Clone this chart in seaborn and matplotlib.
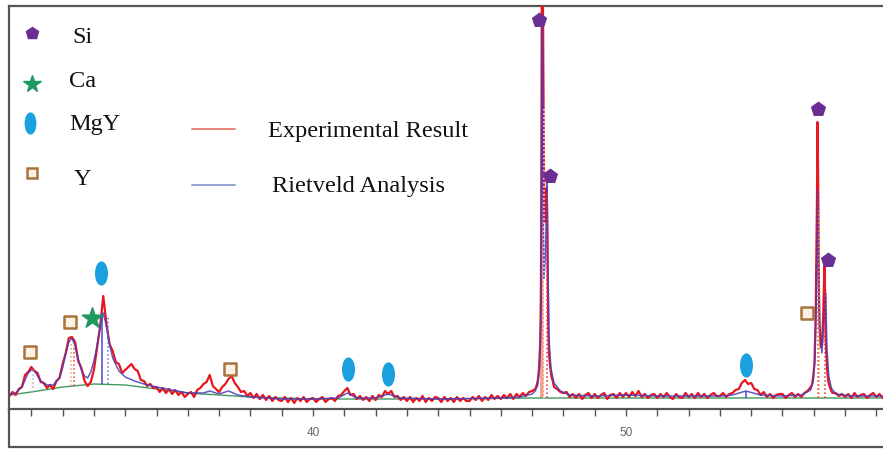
import numpy as np
import pandas as pd
import matplotlib
matplotlib.use("Agg")
import matplotlib.pyplot as plt
import seaborn as sns
from matplotlib.path import Path
from matplotlib.transforms import Affine2D
from matplotlib.lines import Line2D

# ---------------- data ----------------
# experimental scan, 0.1 deg steps from 30.3 deg (intensity in a.u.)
scan_start = 30.3
scan_step = 0.1
exp_scan_I = [
    12, 16, 13, 19, 21, 33, 36,
    41, 37, 35, 26, 25, 20, 23, 19, 27, 30,
    44, 55, 70, 71, 66, 47, 40, 27, 22, 26,
    38, 60, 82, 112, 84, 64, 57, 46, 44, 35,
    38, 41, 44, 39, 37, 28, 27, 22, 24, 20,
    21, 16, 20, 15, 19, 14, 18, 13, 16, 11,
    14, 16, 11, 18, 20, 24, 26, 33, 22, 19,
    16, 21, 24, 29, 32, 25, 21, 16, 17, 12,
    15, 10, 14, 9, 13, 8, 12, 7, 11, 8,
    7, 11, 6, 10, 5, 10, 7, 11, 6, 9,
    10, 6, 9, 11, 6, 9, 10, 7, 12, 13,
    17, 20, 13, 14, 9, 12, 8, 11, 7, 12,
    8, 13, 11, 17, 14, 17, 11, 12, 8, 11,
    7, 11, 6, 10, 7, 12, 6, 10, 7, 11,
    10, 6, 11, 7, 10, 6, 11, 7, 10, 7,
    7, 11, 8, 12, 7, 11, 8, 13, 9, 12,
    9, 13, 10, 14, 9, 14, 11, 15, 12, 16,
    17, 18, 30, 300, 200, 60, 25, 19, 19, 16,
    15, 16, 11, 14, 10, 14, 9, 13, 15, 10,
    14, 10, 13, 15, 9, 13, 14, 10, 15, 11,
    15, 11, 16, 12, 17, 11, 14, 10, 13, 14,
    10, 14, 11, 15, 11, 9, 14, 11, 10, 15,
    11, 14, 10, 15, 11, 14, 10, 13, 15, 12,
    12, 15, 11, 14, 15, 18, 19, 25, 28, 24,
    25, 19, 18, 13, 16, 11, 14, 10, 13, 14,
    14, 10, 13, 15, 11, 14, 11, 15, 17, 20,
    40, 200, 60, 100, 40, 20, 18, 15, 12, 14,
    11, 14, 10, 15, 11, 13, 14, 10, 13, 15,
    11, 14, 10, 12,
]
# finer steps across the two Si reflections
si220_2theta = [47.10, 47.14, 47.18, 47.22, 47.26, 47.28, 47.30, 47.32, 47.34, 47.36, 47.38, 47.40,
                47.42, 47.44, 47.46, 47.48, 47.50, 47.52, 47.54, 47.58, 47.62, 47.66, 47.70]
si220_I = [19, 22, 27, 39, 66, 112, 225, 385, 445, 330, 225, 192,
           186, 206, 220, 198, 128, 76, 54, 41, 31, 27, 21]
si311_2theta = [55.90, 55.94, 55.98, 56.02, 56.06, 56.10, 56.12, 56.14, 56.16, 56.18, 56.22,
                56.26, 56.30, 56.34, 56.36, 56.38, 56.42, 56.46, 56.50, 56.56, 56.60]
si311_I = [21, 23, 31, 44, 92, 205, 286, 228, 128, 86, 61,
           63, 92, 142, 118, 70, 41, 27, 22, 17, 15]

# Rietveld calculated profile
riet_2theta = [30.3, 30.5, 30.7, 30.8, 30.9, 31.0, 31.1, 31.2, 31.3, 31.5, 31.7, 31.9, 32.0, 32.1, 32.2,
               32.3, 32.4, 32.5, 32.6, 32.7, 32.8, 32.9, 33.0, 33.1, 33.2, 33.3, 33.4, 33.5, 33.6, 33.8,
               34.0, 34.3, 34.6, 35.0, 35.5, 36.0, 36.5, 36.7, 37.0, 37.3, 37.6, 38.0, 39.0, 40.0, 40.8,
               41.1, 41.4, 42.0, 42.4, 42.8, 44.0, 46.0, 46.6, 47.0, 47.1, 47.18, 47.24, 47.28, 47.30,
               47.32, 47.34, 47.36, 47.38, 47.42, 47.46, 47.48, 47.50, 47.54, 47.6, 47.7, 47.9, 48.2,
               49.0, 50.0, 51.0, 52.0, 53.0, 53.4, 53.83, 54.3, 55.0, 55.6, 55.9, 55.98, 56.04, 56.08,
               56.12, 56.16, 56.2, 56.26, 56.32, 56.38, 56.42, 56.48, 56.56, 56.7, 57.2, 58.3]
riet_I = [13, 15, 21, 28, 35, 38, 37, 32, 27, 23, 23, 30, 40, 54, 66,
          70, 62, 49, 38, 32, 30, 36, 47, 62, 82, 95, 82, 64, 50, 37,
          31, 27, 24, 21, 18, 15, 15, 17, 14, 17, 13, 11, 9, 9, 10,
          15, 10, 10, 14, 10, 9, 10, 11, 14, 17, 23, 40, 90, 230,
          382, 330, 190, 130, 150, 200, 225, 160, 70, 40, 25, 17, 13,
          12, 13, 12, 12, 12, 13, 17, 13, 12, 13, 18, 27, 50, 110,
          218, 120, 70, 55, 85, 115, 60, 32, 20, 14, 12, 12]

# background
bg_2theta = [30.3, 31, 32, 33, 34, 35, 36, 37, 38, 39, 40, 44, 47, 50, 54, 58.3]
bg_I = [13, 16, 21, 24, 23, 19, 15, 13, 11, 10, 9, 9, 10, 10, 10, 10]

# reflection position lines
refl_2theta = [31.05, 32.27, 32.35, 33.27, 33.45, 47.37, 47.47, 53.83, 56.12, 56.17, 56.37]
refl_top = [38, 66, 60, 95, 90, 300, 215, 17, 286, 200, 140]
refl_colors = ["#b0b0b0", "#f0a060", "#e04040", "#4a4ad0", "#6a6ae0", "#ffffff", "#e03030",
               "#4a4ad0", "#e03030", "#f09040", "#e03030"]
refl_styles = [":", ":", ":", "-", ":", ":", ":", "-", ":", ":", ":"]
si_main_2theta = 47.33

# phase markers
si_2theta = [47.22, 47.57, 56.13, 56.45]
si_I = [388, 232, 299, 148]
ca_2theta = [32.94]
ca_I = [90]
mgy_2theta = [33.23, 41.12, 42.40, 53.83]
mgy_I = [135, 39, 34, 43]
y_2theta = [30.96, 32.24, 37.35, 55.78]
y_I = [56, 86, 39, 95]

phase_names = ["Si", "Ca", "MgY", "Y"]
curve_names = ["Experimental Result", "Rietveld Analysis"]
tick_major = [40, 50]

# ---------------- assemble ----------------
scan_x = np.round(scan_start + scan_step * np.arange(len(exp_scan_I)), 2)
scan_I = np.array(exp_scan_I, dtype=float)
keep = ~(((scan_x > 47.09) & (scan_x < 47.71)) | ((scan_x > 55.89) & (scan_x < 56.61)))
exp_x = np.concatenate([scan_x[keep], si220_2theta, si311_2theta])
exp_y = np.concatenate([scan_I[keep], si220_I, si311_I])
order = np.argsort(exp_x)
exp_df = pd.DataFrame({"two_theta": exp_x[order], "I": exp_y[order]})
riet_df = pd.DataFrame({"two_theta": riet_2theta, "I": riet_I})
bg_df = pd.DataFrame({"two_theta": bg_2theta, "I": bg_I})

# ---------------- plot ----------------
sns.set_theme(style="white")
plt.rcParams["font.family"] = ["Liberation Serif", "DejaVu Serif"]

W, H = 883, 450
fig = plt.figure(figsize=(W / 100, H / 100), dpi=100)
ax_l, ax_r, ax_t, ax_b = 9, 883, 6, 409
ax = fig.add_axes([ax_l / W, 1 - ax_b / H, (ax_r - ax_l) / W, (ax_b - ax_t) / H])

x0 = 40 - (313 - ax_l) / 31.3
x1 = 40 + (ax_r - 313) / 31.3
ax.set_xlim(x0, x1)
ax.set_ylim(-1, 402)

bg_interp = np.interp
# salmon main reflection bar
ax.vlines([si_main_2theta], [bg_interp(si_main_2theta, bg_2theta, bg_I)], [430],
          colors="#f4a08c", linewidth=2.8, zorder=1)

sns.lineplot(data=bg_df, x="two_theta", y="I", ax=ax, color="#3f9a5e", linewidth=1.0,
             estimator=None, sort=False, zorder=2)
sns.lineplot(data=exp_df, x="two_theta", y="I", ax=ax, color="#e8151f", linewidth=1.6,
             estimator=None, sort=False, zorder=3)
sns.lineplot(data=riet_df, x="two_theta", y="I", ax=ax, color="#4b3bb8", linewidth=1.1,
             estimator=None, sort=False, zorder=4, alpha=0.85)

for xr, top, c, ls in zip(refl_2theta, refl_top, refl_colors, refl_styles):
    base = bg_interp(xr, bg_2theta, bg_I)
    ax.vlines([xr], [base], [top], colors=c, linestyles=ls, linewidth=1.1, zorder=5)

# markers
ellipse = Path.unit_circle().transformed(Affine2D().scale(0.5, 1.0))
sns.scatterplot(x=si_2theta, y=si_I, ax=ax, marker="p", s=110, color="#6a2d91",
                edgecolor="#6a2d91", zorder=6)
sns.scatterplot(x=ca_2theta, y=ca_I, ax=ax, marker="*", s=230, color="#1f9a5f",
                edgecolor="#1f9a5f", zorder=6)
sns.scatterplot(x=mgy_2theta, y=mgy_I, ax=ax, marker=ellipse, s=260, color="#1aa0de",
                edgecolor="#1aa0de", zorder=6)
sns.scatterplot(x=y_2theta, y=y_I, ax=ax, marker="s", s=75, color="#fbf0e2",
                edgecolor="#a8733c", linewidth=1.8, zorder=6)

# legend drawn by hand
def fx(px):
    return (px - ax_l) / (ax_r - ax_l)

def fy(py):
    return (ax_b - py) / (ax_b - ax_t)

tr = ax.transAxes
ax.plot([fx(32)], [fy(33)], marker="p", ms=9, color="#6a2d91", transform=tr, clip_on=False)
ax.plot([fx(32)], [fy(84)], marker="*", ms=13, color="#1f9a5f", transform=tr, clip_on=False)
ax.plot([fx(30)], [fy(123)], marker=ellipse, ms=15, color="#1aa0de", transform=tr, clip_on=False)
ax.plot([fx(32)], [fy(173)], marker="s", ms=7, mfc="#fbf0e2", mec="#a8733c", mew=1.8,
        transform=tr, clip_on=False)
fs = 17.6
ax.text(fx(72), fy(43), phase_names[0], transform=tr, fontsize=fs, va="baseline", color="#111")
ax.text(fx(69), fy(87), phase_names[1], transform=tr, fontsize=fs, va="baseline", color="#111")
ax.text(fx(69), fy(130), phase_names[2], transform=tr, fontsize=fs, va="baseline", color="#111")
ax.text(fx(74), fy(185), phase_names[3], transform=tr, fontsize=fs, va="baseline", color="#111")
ax.plot([fx(192), fx(235)], [fy(129), fy(129)], color="#e8867c", lw=1.4, transform=tr)
ax.plot([fx(192), fx(235)], [fy(185), fy(185)], color="#93a3d2", lw=1.4, transform=tr)
ax.text(fx(268), fy(137), curve_names[0], transform=tr, fontsize=fs, va="baseline", color="#111")
ax.text(fx(272), fy(192), curve_names[1], transform=tr, fontsize=fs, va="baseline", color="#111")

# axes styling
ax.set_xlabel("")
ax.set_ylabel("")
ax.set_yticks([])
ax.set_xticks(tick_major)
ax.set_xticklabels([str(t) for t in tick_major], fontfamily="Liberation Sans", fontsize=8.5,
                   color="#666666")
ax.set_xticks(np.arange(31, 59, 1), minor=True)
ax.tick_params(axis="x", which="both", direction="out", bottom=True, color="#555555",
               length=5, width=1.0, pad=8)
for side in ["left", "top", "bottom"]:
    ax.spines[side].set_color("#555555")
    ax.spines[side].set_linewidth(1.6)
ax.spines["right"].set_visible(False)

# outer frame continuing below the axis
fig.add_artist(Line2D([ax_l / W, ax_l / W], [1 - ax_b / H, 1 - 447 / H], color="#555555", lw=1.6))
fig.add_artist(Line2D([ax_l / W, 1.0], [1 - 447 / H, 1 - 447 / H], color="#555555", lw=1.6))

fig.savefig("out.png", dpi=100)
